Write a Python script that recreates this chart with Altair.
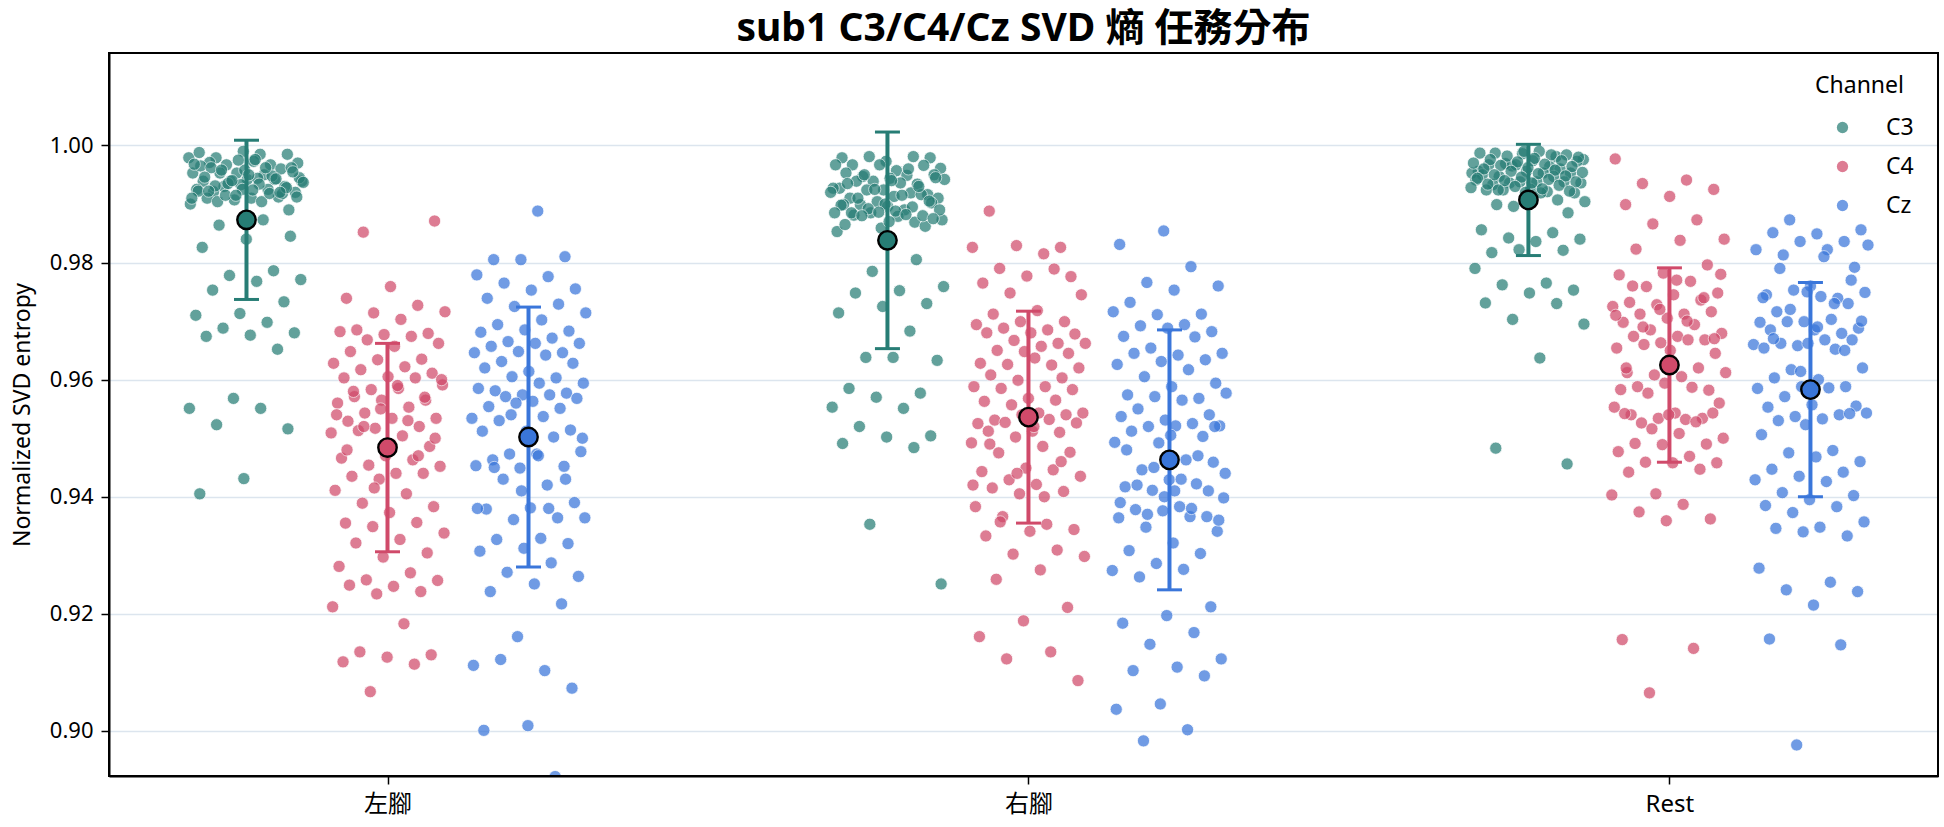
import altair as alt
import pandas as pd

# ---------------- data ----------------
tasks = ["左腳", "右腳", "Rest"]
channels = ["C3", "C4", "Cz"]
colors = ["#277d75", "#d04a6a", "#3a76da"]

left_c3 = [0.9979, 0.9985, 0.9979, 0.9985, 0.9990, 0.9988, 0.9967, 0.9967, 0.9970, 0.9973, 0.9971, 0.9960,
           0.9953, 0.9953, 0.9950, 0.9953, 0.9962, 0.9942, 0.9939, 0.9942, 0.9939, 0.9939, 0.9944, 0.9921,
           0.9930, 0.9933, 0.9925, 0.9925, 0.9930, 0.9920, 0.9910, 0.9910, 0.9912, 0.9907, 0.9900, 0.9904,
           0.9904, 0.9890, 0.9958, 0.9965, 0.9948, 0.9935, 0.9945, 0.9976, 0.9962, 0.9918,
           0.9975, 0.9968, 0.9962, 0.9958, 0.9955, 0.9950, 0.9946, 0.9943, 0.9940, 0.9937, 0.9934, 0.9931,
           0.9928, 0.9925, 0.9922, 0.9918, 0.9915, 0.9912, 0.9924, 0.9922, 0.9920, 0.9915, 0.9910,
           0.9873, 0.9864, 0.9845, 0.9840, 0.9826, 0.9786, 0.9778, 0.9771, 0.9768, 0.9753, 0.9733, 0.9713,
           0.9710, 0.9698, 0.9688, 0.9680, 0.9676, 0.9674, 0.9652, 0.9568, 0.9551, 0.9551, 0.9523, 0.9516,
           0.9431, 0.9405]
left_c4 = [0.9852, 0.9871, 0.9759, 0.9739, 0.9727, 0.9714, 0.9716, 0.9703, 0.9685, 0.9679, 0.9677, 0.9682,
           0.9674, 0.9668, 0.9662, 0.9657, 0.9648, 0.9635, 0.9634, 0.9628, 0.9622, 0.9617, 0.9611, 0.9605,
           0.9603, 0.9603, 0.9583, 0.9591, 0.9585, 0.9571, 0.9565, 0.9565, 0.9560, 0.9553, 0.9543, 0.9534,
           0.9534, 0.9529, 0.9520, 0.9517, 0.9509, 0.9504, 0.9513, 0.9486, 0.9470, 0.9466, 0.9463, 0.9454,
           0.9452, 0.9440, 0.9435, 0.9440, 0.9430, 0.9411, 0.9405, 0.9389, 0.9383, 0.9373, 0.9355, 0.9356,
           0.9349, 0.9338, 0.9327, 0.9321, 0.9304, 0.9297, 0.9281, 0.9270, 0.9258, 0.9257, 0.9247, 0.9249,
           0.9238, 0.9234, 0.9212, 0.9183, 0.9135, 0.9130, 0.9126, 0.9118, 0.9114, 0.9067,
           0.9600, 0.9590, 0.9580, 0.9570, 0.9550, 0.9540, 0.9530, 0.9520, 0.9500, 0.9490, 0.9480, 0.9470,
           0.9415]
left_cz = [0.9888, 0.9805, 0.9810, 0.9805, 0.9779, 0.9776, 0.9765, 0.9755, 0.9753, 0.9739, 0.9729, 0.9725,
           0.9714, 0.9702, 0.9694, 0.9683, 0.9685, 0.9681, 0.9671, 0.9665, 0.9662, 0.9662, 0.9657, 0.9646,
           0.9648, 0.9646, 0.9642, 0.9631, 0.9628, 0.9614, 0.9620, 0.9603, 0.9605, 0.9594, 0.9594, 0.9581,
           0.9577, 0.9574, 0.9585, 0.9574, 0.9571, 0.9568, 0.9563, 0.9554, 0.9551, 0.9560, 0.9534, 0.9537,
           0.9530, 0.9514, 0.9512, 0.9512, 0.9502, 0.9473, 0.9477, 0.9473, 0.9463, 0.9452, 0.9449, 0.9453,
           0.9420, 0.9430, 0.9390, 0.9381, 0.9379, 0.9364, 0.9361, 0.9364, 0.9329, 0.9327, 0.9320, 0.9312,
           0.9307, 0.9287, 0.9271, 0.9264, 0.9251, 0.9238, 0.9217, 0.9161, 0.9112, 0.9103, 0.9122, 0.9073,
           0.9009, 0.9001, 0.8922,
           0.9540, 0.9500, 0.9470, 0.9450, 0.9430, 0.9410, 0.9380, 0.9380]
right_c3 = [0.9979, 0.9973, 0.9979, 0.9981, 0.9981, 0.9961, 0.9957, 0.9967, 0.9966, 0.9967, 0.9967, 0.9949,
            0.9947, 0.9950, 0.9944, 0.9953, 0.9934, 0.9939, 0.9942, 0.9936, 0.9939, 0.9916, 0.9924, 0.9927,
            0.9919, 0.9924, 0.9910, 0.9913, 0.9910, 0.9916, 0.9904, 0.9927, 0.9890, 0.9899, 0.9902, 0.9896,
            0.9899, 0.9869, 0.9885, 0.9873, 0.9879, 0.9881, 0.9862, 0.9859, 0.9853,
            0.9960, 0.9950, 0.9945, 0.9940, 0.9935, 0.9930, 0.9925, 0.9920, 0.9915, 0.9910, 0.9905, 0.9900,
            0.9898, 0.9895, 0.9892, 0.9890, 0.9888, 0.9885, 0.9880, 0.9886, 0.9885, 0.9882, 0.9880, 0.9875,
            0.9870, 0.9865,
            0.9805, 0.9785, 0.9759, 0.9752, 0.9748, 0.9730, 0.9725, 0.9714, 0.9683, 0.9638, 0.9633, 0.9638,
            0.9585, 0.9577, 0.9570, 0.9553, 0.9551, 0.9520, 0.9504, 0.9502, 0.9491, 0.9484, 0.9353, 0.9251]
right_c4 = [0.9888, 0.9826, 0.9829, 0.9826, 0.9815, 0.9790, 0.9776, 0.9777, 0.9765, 0.9789, 0.9748, 0.9745,
            0.9718, 0.9712, 0.9699, 0.9699, 0.9694, 0.9685, 0.9688, 0.9678, 0.9680, 0.9680, 0.9662, 0.9667,
            0.9662, 0.9657, 0.9650, 0.9645, 0.9648, 0.9628, 0.9625, 0.9626, 0.9620, 0.9637, 0.9608, 0.9603,
            0.9599, 0.9588, 0.9588, 0.9585, 0.9583, 0.9568, 0.9563, 0.9565, 0.9557, 0.9543, 0.9543, 0.9531,
            0.9540, 0.9540, 0.9525, 0.9532, 0.9527, 0.9526, 0.9512, 0.9512, 0.9510, 0.9502, 0.9492, 0.9486,
            0.9475, 0.9476, 0.9449, 0.9443, 0.9446, 0.9429, 0.9435, 0.9421, 0.9415, 0.9409, 0.9405, 0.9383,
            0.9353, 0.9366, 0.9344, 0.9341, 0.9333, 0.9309, 0.9302, 0.9298, 0.9275, 0.9259, 0.9211, 0.9188,
            0.9161, 0.9135, 0.9123, 0.9086,
            0.9520, 0.9490, 0.9460, 0.9440, 0.9420, 0.9400, 0.9357]
right_cz = [0.9854, 0.9831, 0.9793, 0.9766, 0.9760, 0.9753, 0.9732, 0.9712, 0.9711, 0.9716, 0.9694, 0.9692,
            0.9682, 0.9688, 0.9674, 0.9673, 0.9654, 0.9645, 0.9642, 0.9645, 0.9634, 0.9631, 0.9626, 0.9617,
            0.9605, 0.9594, 0.9588, 0.9574, 0.9568, 0.9571, 0.9577, 0.9565, 0.9550, 0.9540, 0.9531,
            0.9537, 0.9525, 0.9520, 0.9521, 0.9521, 0.9512, 0.9503, 0.9492, 0.9493, 0.9463, 0.9446, 0.9459,
            0.9429, 0.9417, 0.9422, 0.9411, 0.9398, 0.9383, 0.9378, 0.9366, 0.9376, 0.9364, 0.9366, 0.9348,
            0.9341, 0.9321, 0.9308, 0.9303, 0.9286, 0.9274, 0.9276, 0.9263, 0.9212, 0.9197, 0.9184, 0.9168,
            0.9148, 0.9123, 0.9109, 0.9103, 0.9094, 0.9046, 0.9037, 0.9002, 0.8983,
            0.9520, 0.9505, 0.9480, 0.9470, 0.9450, 0.9440, 0.9430, 0.9420, 0.9410, 0.9400, 0.9390, 0.9380,
            0.9370, 0.9360, 0.9410]
rest_c3 = [0.9981, 0.9965, 0.9976, 0.9990, 0.9987, 0.9984, 0.9986, 0.9956, 0.9964, 0.9969, 0.9973, 0.9974,
           0.9967, 0.9960, 0.9967, 0.9953, 0.9953, 0.9947, 0.9953, 0.9956, 0.9950, 0.9947, 0.9936, 0.9936,
           0.9938, 0.9933, 0.9938, 0.9938, 0.9941, 0.9921, 0.9924, 0.9919, 0.9925, 0.9924, 0.9907, 0.9896,
           0.9904, 0.9919, 0.9899, 0.9885,
           0.9990, 0.9987, 0.9984, 0.9982, 0.9980, 0.9978, 0.9976, 0.9974, 0.9972, 0.9970, 0.9968, 0.9966,
           0.9964, 0.9962, 0.9960, 0.9958, 0.9956, 0.9954, 0.9952, 0.9950, 0.9948, 0.9946, 0.9944, 0.9942,
           0.9940, 0.9938, 0.9936, 0.9934, 0.9932, 0.9930, 0.9928, 0.9926, 0.9924, 0.9922, 0.9920,
           0.9856, 0.9851, 0.9842, 0.9840, 0.9836, 0.9817, 0.9821, 0.9822, 0.9790, 0.9765, 0.9762, 0.9753,
           0.9748, 0.9731, 0.9730, 0.9703, 0.9695, 0.9637, 0.9483, 0.9456]
rest_c4 = [0.9977, 0.9941, 0.9935, 0.9925, 0.9913, 0.9899, 0.9873, 0.9866, 0.9840, 0.9838, 0.9823, 0.9796,
           0.9782, 0.9779, 0.9768, 0.9759, 0.9748, 0.9745, 0.9732, 0.9736, 0.9728, 0.9725, 0.9712, 0.9712,
           0.9716, 0.9705, 0.9698, 0.9694, 0.9685, 0.9679, 0.9674, 0.9674, 0.9668, 0.9663, 0.9654, 0.9668,
           0.9660, 0.9645, 0.9633, 0.9612, 0.9620, 0.9608, 0.9612, 0.9605, 0.9588, 0.9582, 0.9594, 0.9583,
           0.9587, 0.9577, 0.9560, 0.9543, 0.9540, 0.9534, 0.9534, 0.9553, 0.9532,
           0.9526, 0.9543, 0.9540, 0.9542, 0.9528, 0.9516, 0.9500, 0.9508, 0.9491, 0.9490, 0.9489, 0.9477,
           0.9469, 0.9459, 0.9458, 0.9458, 0.9442, 0.9447, 0.9405, 0.9403, 0.9387, 0.9374, 0.9362, 0.9359,
           0.9156, 0.9141, 0.9065,
           0.9780, 0.9770, 0.9760, 0.9740, 0.9720, 0.9710, 0.9700, 0.9690, 0.9670, 0.9650, 0.9620]
rest_cz = [0.9873, 0.9856, 0.9849, 0.9851, 0.9836, 0.9836, 0.9822, 0.9822, 0.9813, 0.9792, 0.9760, 0.9745,
           0.9739, 0.9753, 0.9749, 0.9742, 0.9716, 0.9730, 0.9699, 0.9698, 0.9703, 0.9699, 0.9688, 0.9685,
           0.9685, 0.9679, 0.9658, 0.9660, 0.9668, 0.9662, 0.9668, 0.9662, 0.9654, 0.9652, 0.9617, 0.9620,
           0.9600, 0.9603, 0.9588, 0.9588, 0.9585, 0.9586, 0.9571, 0.9555, 0.9557, 0.9553, 0.9540, 0.9537,
           0.9543,
           0.9533, 0.9530, 0.9542, 0.9523, 0.9506, 0.9479, 0.9475, 0.9460, 0.9468, 0.9447, 0.9442, 0.9435,
           0.9429, 0.9426, 0.9407, 0.9402, 0.9395, 0.9385, 0.9383, 0.9373, 0.9357, 0.9348, 0.9346, 0.9333,
           0.9340, 0.9278, 0.9254, 0.9241, 0.9238, 0.9215, 0.9157, 0.9147, 0.8976,
           0.9830, 0.9810, 0.9790, 0.9770, 0.9750, 0.9740, 0.9730, 0.9720, 0.9700, 0.9690, 0.9670, 0.9650,
           0.9614]

# means and standard deviations (error bars), per task
mean_c3 = [0.9873, 0.9838, 0.9907]
mean_c4 = [0.9484, 0.9536, 0.9625]
mean_cz = [0.9502, 0.9463, 0.9583]
sd_c3 = [0.0136, 0.0185, 0.0095]
sd_c4 = [0.0178, 0.0181, 0.0166]
sd_cz = [0.0222, 0.0222, 0.0183]

y_ticks = [0.90, 0.92, 0.94, 0.96, 0.98, 1.00]

# ---------------- assemble tables ----------------
groups = [[left_c3, left_c4, left_cz], [right_c3, right_c4, right_cz], [rest_c3, rest_c4, rest_cz]]
means = [mean_c3, mean_c4, mean_cz]
sds = [sd_c3, sd_c4, sd_cz]
dodge = [-0.22, 0.0, 0.22]
JIT = 0.18
GOLD = 0.6180339887

rows = []
for ti, trow in enumerate(groups):
    for ci, vals in enumerate(trow):
        for k, v in enumerate(vals):
            frac = (k * GOLD + 0.29 * (3 * ti + ci)) % 1.0
            rows.append({"task": tasks[ti], "channel": channels[ci], "value": v,
                         "xpos": ti + dodge[ci] + (frac - 0.5) * JIT})
df = pd.DataFrame(rows)

srows = []
cap = 0.0195
for ti in range(3):
    for ci in range(3):
        m, s = means[ci][ti], sds[ci][ti]
        c = ti + dodge[ci]
        srows.append({"task": tasks[ti], "channel": channels[ci], "center": c, "mean": m,
                      "lo": m - s, "hi": m + s, "cl": c - cap, "cr": c + cap})
stats = pd.DataFrame(srows)

FONT = "Noto Sans, Noto Sans CJK TC"
W, H = 1829, 723

x_scale = alt.Scale(domain=[-0.4345, 2.419], nice=False, zero=False)
y_scale = alt.Scale(domain=[0.8923, 1.0158], nice=False, zero=False)
color_scale = alt.Scale(domain=channels, range=colors)

label_expr = "[" + ",".join("'" + t + "'" for t in tasks) + "][datum.value]"

x_axis = alt.Axis(values=[0, 1, 2], labelExpr=label_expr, title=None, grid=False,
                  tickSize=8, tickWidth=1.5, labelPadding=8, labelFontSize=24, labelFont=FONT,
                  labelColor="black", tickColor="black", domainColor="black", domainWidth=2)
y_axis = alt.Axis(values=y_ticks, format=".2f", title="Normalized SVD entropy", grid=True,
                  gridColor="#dce5ee", gridWidth=1.5, tickSize=8, tickWidth=1.5, labelPadding=8,
                  labelFontSize=22, labelFont=FONT, labelColor="black", tickColor="black",
                  domainColor="black", domainWidth=2, titleFont=FONT, titleFontSize=23,
                  titleFontWeight="normal", titleColor="black", titleAngle=270, titleX=-80,
                  titleY=361.5, titleBaseline="alphabetic", titleAlign="center")

X = alt.X("xpos:Q", scale=x_scale, axis=x_axis)
Y = alt.Y("value:Q", scale=y_scale, axis=y_axis)

points = alt.Chart(df).mark_circle(size=150, opacity=0.72, stroke="white", strokeWidth=0.8,
                                   clip=True).encode(
    x=X, y=Y,
    color=alt.Color("channel:N", scale=color_scale,
                    legend=alt.Legend(title="Channel", orient="none", legendX=1706, legendY=22,
                                      titleFont=FONT, labelFont=FONT, titleFontSize=23,
                                      labelFontSize=23, titleFontWeight="normal",
                                      titleColor="black", labelColor="black", symbolSize=127,
                                      symbolType="circle", symbolOffset=16, labelOffset=32,
                                      rowPadding=15, titlePadding=18, padding=0,
                                      symbolStrokeWidth=0, symbolOpacity=0.72)),
)

sb = alt.Chart(stats)
col = alt.Color("channel:N", scale=color_scale, legend=None)
err = sb.mark_rule(strokeWidth=4).encode(
    x=alt.X("center:Q", scale=x_scale), y=alt.Y("lo:Q", scale=y_scale), y2="hi:Q", color=col)
cap_hi = sb.mark_rule(strokeWidth=3).encode(
    x=alt.X("cl:Q", scale=x_scale), x2="cr:Q", y=alt.Y("hi:Q", scale=y_scale), color=col)
cap_lo = sb.mark_rule(strokeWidth=3).encode(
    x=alt.X("cl:Q", scale=x_scale), x2="cr:Q", y=alt.Y("lo:Q", scale=y_scale), color=col)
mean_pts = sb.mark_circle(size=340, opacity=1, stroke="black", strokeWidth=2.4).encode(
    x=alt.X("center:Q", scale=x_scale), y=alt.Y("mean:Q", scale=y_scale), color=col)

frame = alt.Chart(pd.DataFrame({"f": [0]})).mark_rect(
    fillOpacity=0, stroke="black", strokeWidth=2).encode(
    x=alt.value(0), x2=alt.value(W), y=alt.value(0), y2=alt.value(H))

chart = alt.layer(points, err, cap_hi, cap_lo, mean_pts, frame).properties(
    width=W, height=H,
    autosize=alt.AutoSizeParams(type="none"),
    padding={"left": 109, "top": 53, "right": 6, "bottom": 51},
    title=alt.TitleParams("sub1 C3/C4/Cz SVD 熵 任務分布", font=FONT, fontSize=39,
                          fontWeight="bold", anchor="middle", offset=3, color="black"),
).configure_view(stroke="black", strokeWidth=2).configure(background="white")

chart.save("out.html", embed_options={"renderer": "svg", "actions": False})
